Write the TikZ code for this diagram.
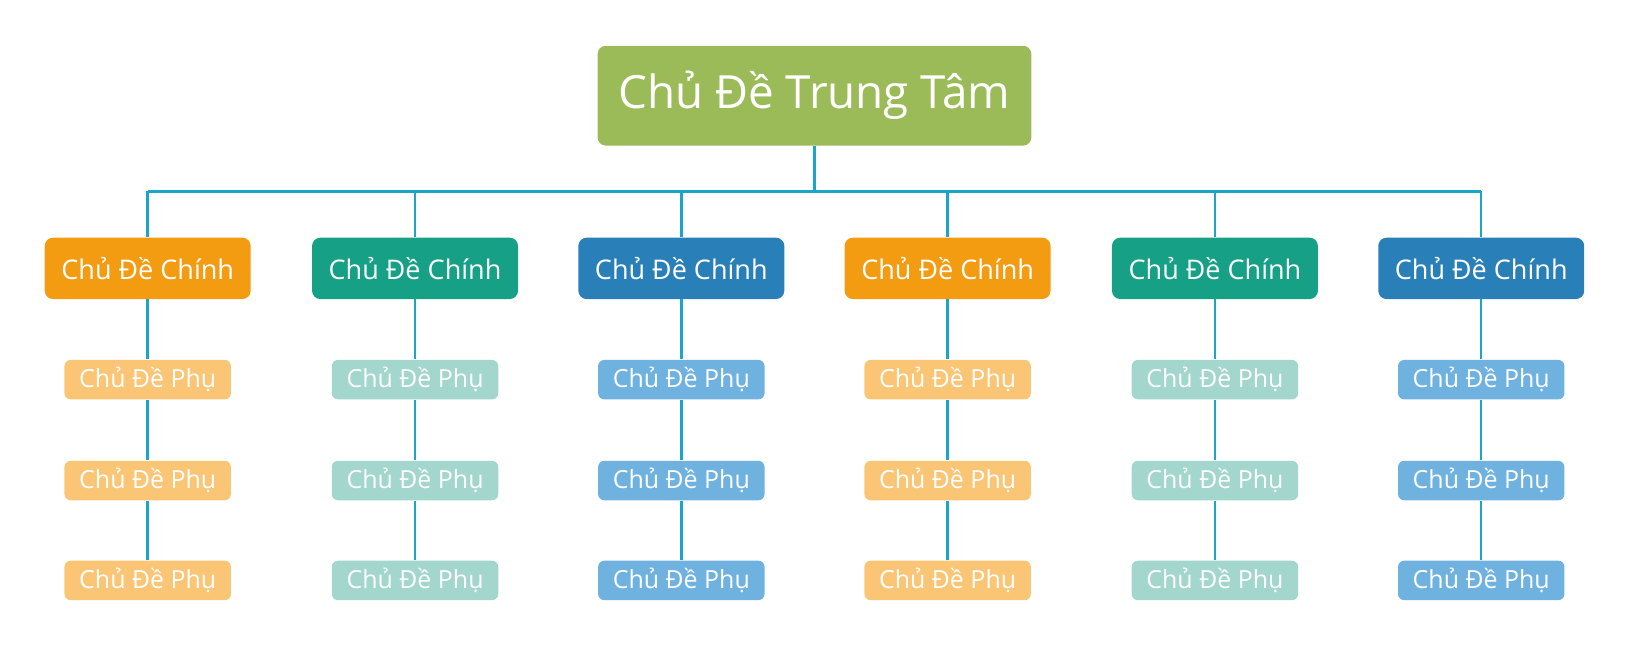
\documentclass[tikz,border=0pt]{standalone}
\usepackage{fontspec}
\setmainfont{Open Sans}
\begin{document}
\begin{tikzpicture}[x=0.5pt,y=-0.5pt,
  box/.style={rounded corners=4pt,inner sep=0pt,text=white,anchor=center},
  rootbox/.style={box,fill=rootc,minimum width=208.5pt,minimum height=48pt,font=\fontsize{22}{26}\selectfont},
  mainbox/.style={box,minimum width=99pt,minimum height=29.5pt,font=\fontsize{13}{15}\selectfont},
  subbox/.style={box,rounded corners=3pt,minimum width=80pt,minimum height=19pt,font=\fontsize{12}{14}\selectfont},
  link/.style={draw=linec,line width=1.2pt}]
\definecolor{rootc}{HTML}{9BBB59}
\definecolor{linec}{HTML}{1BA5C8}
\definecolor{mo}{HTML}{F39C12}\definecolor{mg}{HTML}{16A085}\definecolor{mb}{HTML}{2980B9}
\definecolor{so}{HTML}{FAC574}\definecolor{sg}{HTML}{A3D6CC}\definecolor{sb}{HTML}{6FB2E0}
\useasboundingbox (0,0) rectangle (1568,636);
\node[rootbox] (root) at (783,92) {\raisebox{-2pt}{Chủ Đề Trung Tâm}};
\coordinate (bus) at (783,184);
\foreach \i/\x/\m/\s in {1/142/mo/so,2/399/mg/sg,3/655/mb/sb,4/911/mo/so,5/1168/mg/sg,6/1424/mb/sb}{
  \coordinate (b\i) at (\x,184);
  \node[mainbox,fill=\m] (m\i) at (\x,258) {Chủ Đề Chính};
  \node[subbox,fill=\s] (s\i a) at (\x,365) {Chủ Đề Phụ};
  \node[subbox,fill=\s] (s\i b) at (\x,462) {Chủ Đề Phụ};
  \node[subbox,fill=\s] (s\i c) at (\x,558) {Chủ Đề Phụ};
  \draw[link] (b\i) -- (m\i.north);
  \draw[link] (m\i.south) -- (s\i a.north);
  \draw[link] (s\i a.south) -- (s\i b.north);
  \draw[link] (s\i b.south) -- (s\i c.north);
}
\draw[link] (root.south) -- (bus);
\draw[link] (b1) -- (b6);
\end{tikzpicture}
\end{document}
